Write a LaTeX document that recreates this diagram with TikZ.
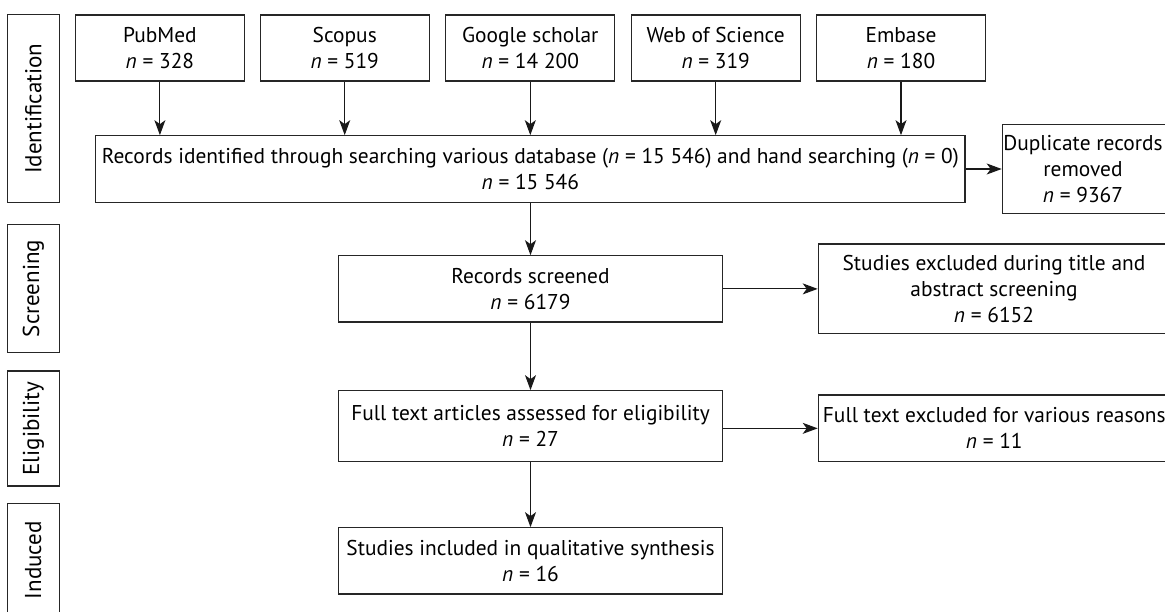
\documentclass[tikz,border=0pt]{standalone}
\usepackage{fontspec}
\setmainfont{PT Sans}
\usetikzlibrary{arrows.meta}
\begin{document}
\begin{tikzpicture}[x=1pt,y=-1pt,
  txt/.style={font=\fontsize{21.4pt}{26pt}\selectfont},
  box/.style={txt, draw=black!85, line width=1.1pt, inner sep=0pt, align=center},
  lbl/.style={txt, inner sep=0pt, align=center},
  side/.style={draw=black!85, line width=1.1pt, inner sep=0pt, minimum height=52pt, rotate=90,
    font=\fontsize{23pt}{27pt}\selectfont},
  db/.style={box, minimum width=169pt, minimum height=66pt},
  mid/.style={box, minimum width=384.4pt},
  right/.style={box, minimum width=352pt, anchor=west},
  arr/.style={-{Stealth[length=15pt,width=11pt,inset=4pt]}, line width=1.1pt, draw=black!90}]
\useasboundingbox (0,0) rectangle (1165,612);

% side stage boxes
\node[side, minimum width=187.5pt] (sid) at (33.3,108.7) {Identification};
\node[side, minimum width=128.4pt] (ssc) at (33.3,288.5) {Screening};
\node[side, minimum width=115pt]   (sel) at (33.3,428.5) {Eligibility};
\node[side, minimum width=113.7pt] (sin) at (33.3,560.2) {Induced};

% databases
\node[db] (pub) at (159.9,48) {PubMed\\\textit{n} = 328};
\node[db] (sco) at (344.7,48) {Scopus\\\textit{n} = 519};
\node[db] (goo) at (530.3,48) {Google scholar\\\textit{n} = 14 200};
\node[db] (wos) at (715.7,48) {Web of Science\\\textit{n} = 319};
\node[db] (emb) at (901,48) {Embase\\\textit{n} = 180};

% records identified
\node[box, minimum width=869.3pt, minimum height=66.6pt] (rec) at (530.35,169)
  {Records identified through searching various database (\textit{n} = 15 546) and hand searching (\textit{n} = 0)\\\textit{n} = 15 546};

% duplicates
\node[box, minimum width=170pt, minimum height=88.5pt, anchor=west] (dup) at (1001.7,169) {};
\node[lbl] (duptxt) at (1083,169) {Duplicate records\\removed\\\textit{n} = 9367};

% main column
\node[mid, minimum height=66.3pt] (scr) at (530.5,288.9) {Records screened\\\textit{n} = 6179};
\node[mid, minimum height=71pt] (ful) at (530.5,426.2) {Full text articles assessed for eligibility\\\textit{n} = 27};
\node[mid, minimum height=66.3pt] (inc) at (530.5,560.85) {Studies included in qualitative synthesis\\\textit{n} = 16};

% exclusions
\node[right, minimum height=89.3pt] (exa) at (817.7,288.7) {};
\node[lbl] (exatxt) at (994,288.7) {Studies excluded during title and\\abstract screening\\\textit{n} = 6152};
\node[right, minimum height=66.7pt] (exf) at (817.7,428.35) {};
\node[lbl] (exftxt) at (994.3,428.35) {Full text excluded for various reasons\\\textit{n} = 11};

% connectors
\foreach \s in {pub,sco,goo,wos,emb}
  \draw[arr] (\s.south) -- (\s.south |- rec.north);
\draw[arr] (rec.east) -- (dup.west);
\draw[arr] (rec.south -| scr.north) -- (scr.north);
\draw[arr] (scr.south) -- (ful.north);
\draw[arr] (ful.south) -- (inc.north);
\draw[arr] (scr.east) -- (scr.east -| exa.west);
\draw[arr] (ful.east |- exf.west) -- (exf.west);
\end{tikzpicture}
\end{document}
